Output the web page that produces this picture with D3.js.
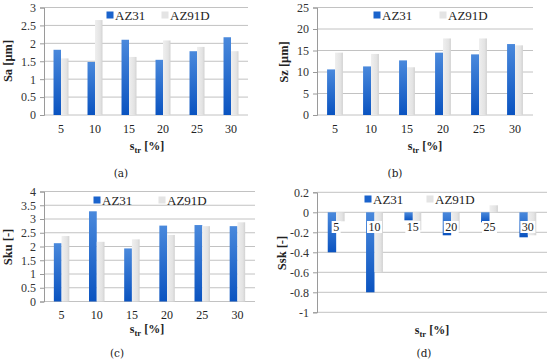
<!DOCTYPE html>
<html>
<head>
<meta charset="utf-8">
<script src="https://cdn.jsdelivr.net/npm/d3@7"></script>
<style>
  body { margin: 0; background: #fff; }
</style>
</head>
<body>
<div id="chart"></div>
<script>
// Data
var strain = ["5", "10", "15", "20", "25", "30"];
var series = ["AZ31", "AZ91D"];

var saAZ31 = [1.82, 1.48, 2.10, 1.54, 1.78, 2.17];
var saAZ91D = [1.58, 2.65, 1.62, 2.08, 1.90, 1.78];

var szAZ31 = [10.6, 11.3, 12.7, 14.5, 14.1, 16.5];
var szAZ91D = [14.5, 14.2, 11.1, 17.8, 17.8, 16.2];

var skuAZ31 = [2.12, 3.28, 1.93, 2.76, 2.78, 2.74];
var skuAZ91D = [2.38, 2.17, 2.26, 2.42, 2.74, 2.88];

var sskAZ31 = [-0.40, -0.80, -0.08, -0.23, -0.10, -0.25];
var sskAZ91D = [-0.09, -0.60, -0.18, -0.18, 0.07, -0.23];

var saTicks = [0, 0.5, 1, 1.5, 2, 2.5, 3];
var szTicks = [0, 5, 10, 15, 20, 25];
var skuTicks = [0, 0.5, 1, 1.5, 2, 2.5, 3, 3.5, 4];
var sskTicks = [-1, -0.8, -0.6, -0.4, -0.2, 0, 0.2];

var width = 550, height = 363;
var FONT = "'Liberation Serif', 'Times New Roman'";

var svg = d3.select("#chart").append("svg")
    .attr("width", width)
    .attr("height", height);

// gradients for the Excel-like bars
var defs = svg.append("defs");
var gBlue = defs.append("linearGradient").attr("id", "blue")
    .attr("x1", 0).attr("y1", 0).attr("x2", 0).attr("y2", 1);
gBlue.append("stop").attr("offset", "0%").attr("stop-color", "#4a89dc");
gBlue.append("stop").attr("offset", "100%").attr("stop-color", "#0a53c0");
var gGray = defs.append("linearGradient").attr("id", "gray")
    .attr("x1", 0).attr("y1", 0).attr("x2", 1).attr("y2", 0);
gGray.append("stop").attr("offset", "0%").attr("stop-color", "#efefef");
gGray.append("stop").attr("offset", "70%").attr("stop-color", "#e3e3e3");
gGray.append("stop").attr("offset", "100%").attr("stop-color", "#d2d2d2");

var fills = ["url(#blue)", "url(#gray)"];

function fmt(d) { return String(+d.toFixed(1)); }

function txt(sel, size) {
    return sel.style("font-family", FONT).style("font-size", size + "px").attr("fill", "#222");
}

function panel(p) {
    var g = svg.append("g");

    var x = d3.scaleBand()
        .domain(strain)
        .range([p.left, p.right]);

    var y = d3.scaleLinear()
        .domain(p.domain)
        .range([p.bottom, p.top]);

    // gridlines
    g.selectAll(".grid")
        .data(p.ticks)
        .enter()
        .append("line")
        .attr("x1", p.left)
        .attr("x2", p.right)
        .attr("y1", function(d) { return y(d); })
        .attr("y2", function(d) { return y(d); })
        .attr("stroke", "#c2c2c2")
        .attr("stroke-width", 1);

    // y axis
    var axis = g.append("g")
        .attr("transform", "translate(" + p.left + ",0)")
        .call(d3.axisLeft(y).tickValues(p.ticks).tickFormat(fmt).tickSize(4).tickPadding(4));
    axis.select(".domain").attr("stroke", "#9a9a9a");
    axis.selectAll(".tick line").attr("stroke", "#9a9a9a");
    txt(axis.selectAll("text"), 12).attr("fill", "#333");

    // bars
    var bw = x.bandwidth() * 0.22;
    var y0 = y(0);
    [p.a, p.b].forEach(function(vals, si) {
        g.selectAll(".bar" + si)
            .data(vals)
            .enter()
            .append("rect")
            .attr("x", function(d, i) { return x(strain[i]) + x.bandwidth() / 2 - bw + si * bw; })
            .attr("y", function(d) { return Math.min(y(d), y0); })
            .attr("width", bw)
            .attr("height", function(d) { return Math.abs(y(d) - y0); })
            .attr("fill", fills[si]);
    });

    // category labels
    if (p.inner) {
        var lab = g.selectAll(".cat")
            .data(strain)
            .enter()
            .append("g")
            .attr("transform", function(d) { return "translate(" + (x(d) + x.bandwidth() / 2) + "," + p.catY + ")"; });
        lab.append("rect")
            .attr("x", function(d) { return -d.length * 3 - 1.5; })
            .attr("y", -6)
            .attr("width", function(d) { return d.length * 6 + 3; })
            .attr("height", 12)
            .attr("fill", "#fff");
        txt(lab.append("text"), 12)
            .attr("text-anchor", "middle")
            .attr("dy", "0.35em")
            .text(function(d) { return d; });
    } else {
        txt(g.selectAll(".cat")
            .data(strain)
            .enter()
            .append("text"), 12)
            .attr("x", function(d) { return x(d) + x.bandwidth() / 2; })
            .attr("y", p.catY)
            .attr("text-anchor", "middle")
            .text(function(d) { return d; });
    }

    // legend
    series.forEach(function(s, i) {
        g.append("rect")
            .attr("x", p.leg[i] - 3.5)
            .attr("y", p.legY - 3.5)
            .attr("width", 7)
            .attr("height", 7)
            .attr("fill", i == 0 ? "#1a63cc" : "#e4e4e4");
        txt(g.append("text"), 13)
            .attr("x", p.leg[i] + 5)
            .attr("y", p.legY)
            .attr("dy", "0.35em")
            .text(s);
    });

    // y label
    txt(g.append("text"), 12.5)
        .attr("transform", "translate(" + p.yLabX + "," + p.yLabY + ") rotate(-90)")
        .attr("text-anchor", "middle")
        .attr("dy", "0.35em")
        .style("font-weight", "bold")
        .text(p.yLabel);

    // x label
    var xl = txt(g.append("text"), 12)
        .attr("x", p.xLabX)
        .attr("y", p.xLabY)
        .attr("text-anchor", "middle")
        .style("font-weight", "bold");
    xl.append("tspan").text("s");
    xl.append("tspan").attr("dy", 3).style("font-size", "8.5px").text("tr");
    xl.append("tspan").attr("dy", -3).text(" [%]");

    // caption
    txt(g.append("text"), 12)
        .attr("x", p.capX)
        .attr("y", p.capY)
        .attr("text-anchor", "middle")
        .style("font-family", "'DejaVu Serif'")
        .style("font-size", "10.5px")
        .text(p.caption);
}

panel({
    a: saAZ31, b: saAZ91D, domain: [0, 3], ticks: saTicks,
    left: 44, right: 248, top: 7.5, bottom: 115,
    catY: 133, leg: [110, 165], legY: 15,
    yLabel: "Sa  [\u03bcm]", yLabX: 8, yLabY: 61,
    xLabX: 147, xLabY: 150, caption: "(a)", capX: 121, capY: 177
});

panel({
    a: szAZ31, b: szAZ91D, domain: [0, 25], ticks: szTicks,
    left: 317, right: 533, top: 7.5, bottom: 115,
    catY: 133, leg: [377, 443], legY: 15,
    yLabel: "Sz  [\u03bcm]", yLabX: 284, yLabY: 62,
    xLabX: 425, xLabY: 150, caption: "(b)", capX: 395, capY: 177
});

panel({
    a: skuAZ31, b: skuAZ91D, domain: [0, 4], ticks: skuTicks,
    left: 44, right: 255, top: 191.5, bottom: 301.5,
    catY: 319, leg: [97, 162], legY: 200,
    yLabel: "Sku  [-]", yLabX: 8, yLabY: 247,
    xLabX: 147, xLabY: 333, caption: "(c)", capX: 117, capY: 357
});

panel({
    a: sskAZ31, b: sskAZ91D, domain: [-1, 0.2], ticks: sskTicks,
    left: 317, right: 547, top: 192.3, bottom: 312.3,
    catY: 227, inner: true, leg: [368, 430], legY: 199,
    yLabel: "Ssk  [-]", yLabX: 282, yLabY: 253,
    xLabX: 432, xLabY: 334, caption: "(d)", capX: 424, capY: 357
});
</script>
</body>
</html>
